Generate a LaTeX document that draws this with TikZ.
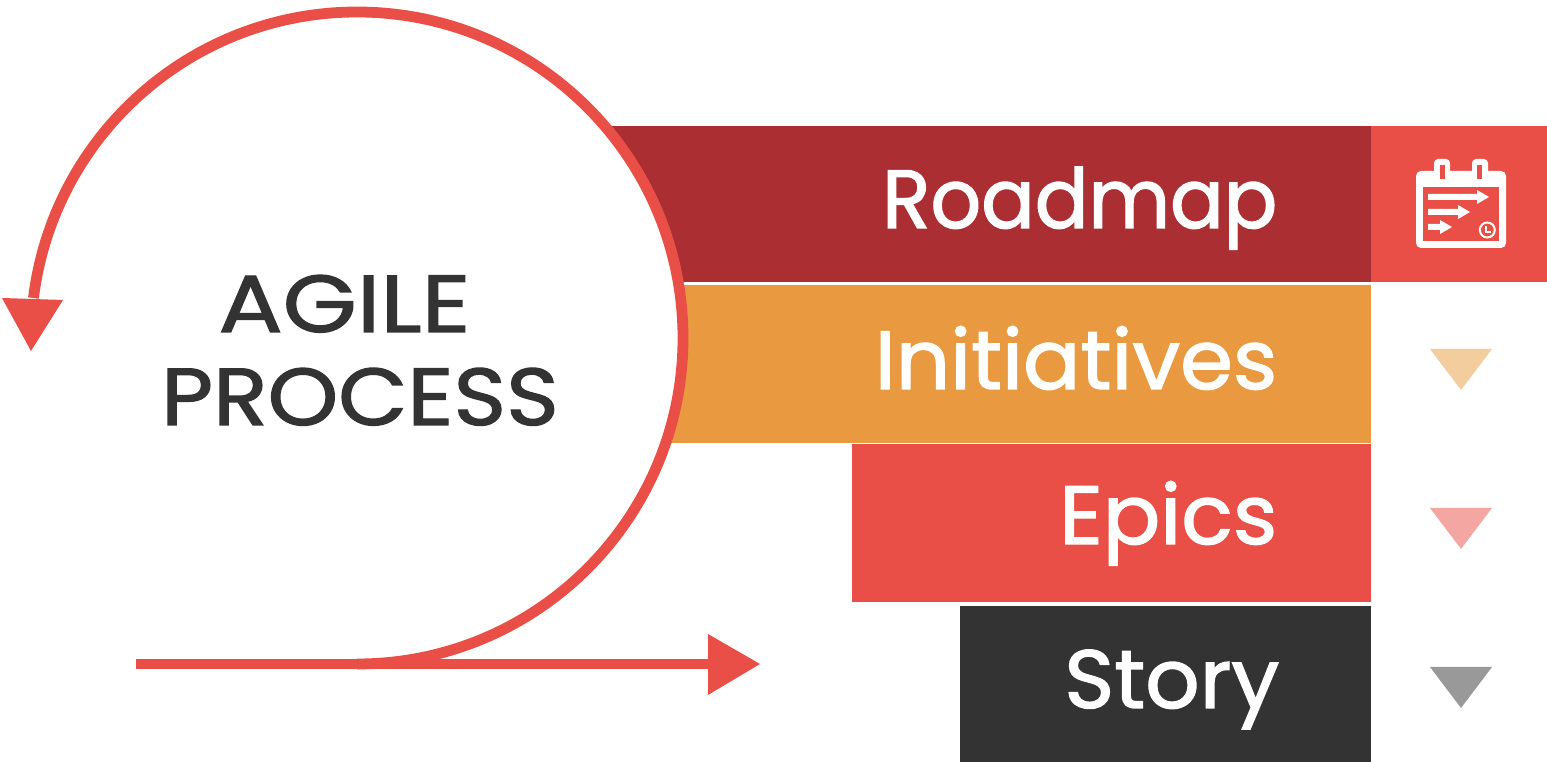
\documentclass[tikz,border=0pt]{standalone}
\usepackage{fontspec}
\newfontfamily\barfont[FakeStretch=1.03,FakeBold=1.6]{Poppins}
\newfontfamily\roadfont[FakeStretch=0.96,FakeBold=1.6]{Poppins}
\newfontfamily\agilefont[FakeStretch=1.18,FakeBold=1.6]{Poppins}
\newfontfamily\processfont[FakeStretch=1.11,FakeBold=1.6]{Poppins}
\definecolor{roadmapred}{HTML}{AB2E32}
\definecolor{initorange}{HTML}{E99A40}
\definecolor{epicred}{HTML}{E94F46}
\definecolor{storygray}{HTML}{333333}
\tikzset{
    loopline/.style={draw=epicred,line width=1.08mm},
    barlabel/.style={anchor=base east,inner sep=0pt,text=white,font=\barfont\fontsize{23.5}{28}\selectfont},
    headlabel/.style={anchor=base,inner sep=0pt,text=storygray}
}
\begin{document}
\begin{tikzpicture}
    \useasboundingbox (0,0) rectangle (15.47,7.62);
    % bars
    \fill[roadmapred] (5.9,4.8) rectangle (13.71,6.36);
    \fill[epicred] (13.71,4.8) rectangle (15.47,6.36);
    \fill[initorange] (6.2,3.19) rectangle (13.71,4.77);
    \fill[epicred] (8.52,1.6) rectangle (13.71,3.18);
    \fill[storygray] (9.6,0) rectangle (13.71,1.56);
    % loop
    \fill[white] (3.57,4.24) circle (3.26);
    \draw[loopline] (1.36,0.98) -- (7.1,0.98);
    \draw[loopline] (3.57,0.98) arc (-90:172.95:3.26);
    \fill[epicred] (7.08,1.28) -- (7.6,0.98) -- (7.08,0.67) -- cycle;
    \fill[epicred] (0.02,4.64) -- (0.63,4.62) -- (0.31,4.11) -- cycle;
    % labels
    \node[headlabel,font=\agilefont\fontsize{23}{28}\selectfont] (agile) at (3.445,4.30) {AGILE};
    \node[headlabel,font=\processfont\fontsize{23}{28}\selectfont] (process) at (3.6,3.37) {PROCESS};
    \node[barlabel,font=\roadfont\fontsize{23.5}{28}\selectfont] (roadmap) at (12.78,5.34) {Roadmap};
    \node[barlabel] (initiatives) at (12.78,3.73) {Initiatives};
    \node[barlabel] (epics) at (12.78,2.18) {Epics};
    \node[barlabel] (story) at (12.80,0.54) {Story};
    % level markers
    \fill[initorange!50!white] (14.30,4.13) -- (14.92,4.13) -- (14.61,3.72) -- cycle;
    \fill[epicred!50!white] (14.30,2.54) -- (14.92,2.54) -- (14.61,2.13) -- cycle;
    \fill[storygray!50!white] (14.30,0.95) -- (14.92,0.95) -- (14.61,0.54) -- cycle;
    % calendar icon
    \fill[white,rounded corners=0.04cm] (14.34,6.03) rectangle (14.5,5.8);
    \fill[white,rounded corners=0.04cm] (14.72,6.03) rectangle (14.88,5.8);
    \fill[white,rounded corners=0.05cm] (14.16,5.91) rectangle (15.06,5.14);
    \fill[epicred] (14.23,5.75) rectangle (14.99,5.21);
    \fill[epicred] (14.4,5.97) rectangle (14.445,5.83);
    \fill[epicred] (14.77,5.97) rectangle (14.82,5.83);
    \fill[white] (14.28,5.68) -- (14.77,5.68) -- (14.77,5.72) -- (14.89,5.65) -- (14.77,5.58)
        -- (14.77,5.62) -- (14.28,5.62) -- cycle;
    \fill[white] (14.28,5.53) -- (14.58,5.53) -- (14.58,5.57) -- (14.70,5.50) -- (14.58,5.43)
        -- (14.58,5.47) -- (14.28,5.47) -- cycle;
    \fill[white] (14.28,5.38) -- (14.40,5.38) -- (14.40,5.42) -- (14.52,5.35) -- (14.40,5.28)
        -- (14.40,5.32) -- (14.28,5.32) -- cycle;
    \draw[white,line width=0.2mm] (14.873,5.32) circle (0.075);
    \draw[white,line width=0.2mm] (14.855,5.36) -- (14.855,5.30) -- (14.91,5.30);
\end{tikzpicture}
\end{document}
